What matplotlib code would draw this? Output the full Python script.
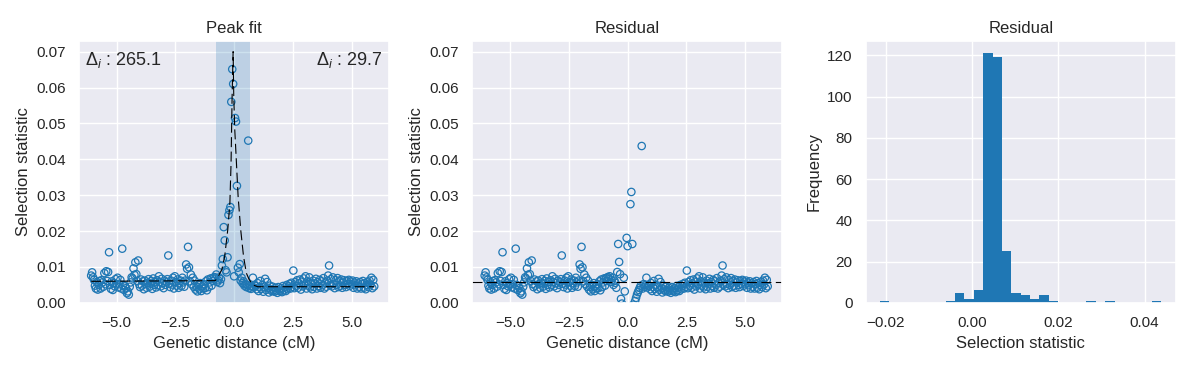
import numpy as np
import matplotlib
matplotlib.use('Agg')
import matplotlib.pyplot as plt
import seaborn as sns

# Selection statistic along the chromosome, left flank of the peak
left_x = [-6.08, -6.04, -6.00, -5.96, -5.92, -5.88, -5.84, -5.80, -5.76, -5.72,
          -5.68, -5.64, -5.60, -5.56, -5.52, -5.48, -5.44, -5.40, -5.36, -5.32,
          -5.28, -5.24, -5.20, -5.16, -5.12, -5.08, -5.04, -5.00, -4.96, -4.92,
          -4.88, -4.84, -4.80, -4.76, -4.72, -4.68, -4.64, -4.60, -4.56, -4.52,
          -4.48, -4.44, -4.40, -4.36, -4.32, -4.28, -4.24, -4.20, -4.16, -4.12,
          -4.08, -4.04, -4.00, -3.96, -3.92, -3.88, -3.84, -3.80, -3.76, -3.72,
          -3.68, -3.64, -3.60, -3.56, -3.52, -3.48, -3.44, -3.40, -3.36, -3.32,
          -3.28, -3.24, -3.20, -3.16, -3.12, -3.08, -3.04, -3.00, -2.96, -2.92,
          -2.88, -2.84, -2.80, -2.76, -2.72, -2.68, -2.64, -2.60, -2.56, -2.52,
          -2.48, -2.44, -2.40, -2.36, -2.32, -2.28, -2.24, -2.20, -2.16, -2.12,
          -2.08, -2.04, -2.00, -1.96, -1.92, -1.88, -1.84, -1.80, -1.76, -1.72,
          -1.68, -1.64, -1.60, -1.56, -1.52, -1.48, -1.44, -1.40, -1.36, -1.32,
          -1.28, -1.24, -1.20, -1.16, -1.12, -1.08, -1.04, -1.00, -0.96, -0.92,
          -0.88, -0.84]
left_y = [0.0076, 0.0085, 0.0071, 0.0064, 0.0048, 0.0040, 0.0058, 0.0037, 0.0050, 0.0061,
          0.0040, 0.0063, 0.0057, 0.0045, 0.0083, 0.0052, 0.0088, 0.0061, 0.0086, 0.0141,
          0.0050, 0.0039, 0.0060, 0.0036, 0.0055, 0.0046, 0.0066, 0.0052, 0.0070, 0.0043,
          0.0052, 0.0064, 0.0040, 0.0151, 0.0050, 0.0036, 0.0046, 0.0041, 0.0027, 0.0032,
          0.0023, 0.0045, 0.0057, 0.0071, 0.0068, 0.0096, 0.0078, 0.0113, 0.0080, 0.0061,
          0.0118, 0.0052, 0.0044, 0.0065, 0.0048, 0.0060, 0.0038, 0.0062, 0.0053, 0.0042,
          0.0056, 0.0066, 0.0045, 0.0054, 0.0061, 0.0039, 0.0068, 0.0050, 0.0058, 0.0043,
          0.0063, 0.0049, 0.0074, 0.0058, 0.0046, 0.0067, 0.0055, 0.0041, 0.0062, 0.0050,
          0.0057, 0.0066, 0.0132, 0.0053, 0.0044, 0.0062, 0.0051, 0.0070, 0.0040, 0.0074,
          0.0058, 0.0048, 0.0065, 0.0042, 0.0055, 0.0062, 0.0047, 0.0070, 0.0057, 0.0045,
          0.0062, 0.0107, 0.0095, 0.0156, 0.0099, 0.0060, 0.0079, 0.0052, 0.0070, 0.0045,
          0.0062, 0.0037, 0.0045, 0.0032, 0.0050, 0.0038, 0.0055, 0.0033, 0.0046, 0.0040,
          0.0052, 0.0041, 0.0060, 0.0035, 0.0065, 0.0044, 0.0057, 0.0068, 0.0048, 0.0069,
          0.0061, 0.0072]

# Peak region: raw values and residuals after removing the fit
peak_x = [-0.80, -0.76, -0.72, -0.68, -0.64, -0.60, -0.56, -0.52, -0.48, -0.44,
          -0.40, -0.36, -0.32, -0.28, -0.24, -0.20, -0.16, -0.12, -0.08, -0.04,
          0.00, 0.04, 0.08, 0.12, 0.16, 0.20, 0.24, 0.28, 0.32, 0.36,
          0.40, 0.44, 0.48, 0.52, 0.56, 0.60, 0.64, 0.68, 0.72, 0.76,
          0.80, 0.84, 0.88]
peak_y = [0.0068, 0.0079, 0.0058, 0.0063, 0.0071, 0.0055, 0.0066, 0.0104, 0.0122, 0.0211,
          0.0174, 0.0091, 0.0085, 0.0127, 0.0245, 0.0258, 0.0267, 0.0560, 0.0651, 0.0610,
          0.0074, 0.0515, 0.0505, 0.0326, 0.0098, 0.0085, 0.0108, 0.0062, 0.0070, 0.0055,
          0.0060, 0.0048, 0.0052, 0.0044, 0.0050, 0.0452, 0.0041, 0.0047, 0.0039, 0.0045,
          0.0070, 0.0043, 0.0049]
peak_resid = [0.0068, 0.0074, 0.0058, 0.0063, 0.0070, 0.0050, 0.0062, 0.0056, 0.0042, 0.0086,
              0.0164, 0.0114, 0.0080, 0.0011, -0.0002, -0.0025, 0.0070, 0.0032, -0.0015, 0.0181,
              0.0158, -0.0040, -0.0200, 0.0275, 0.0309, 0.0164, -0.0005, -0.0018, 0.0005, 0.0014,
              0.0023, 0.0030, 0.0036, 0.0042, 0.0048, 0.0437, 0.0040, 0.0052, 0.0045, 0.0050,
              0.0070, 0.0043, 0.0049]

# Right flank
right_x = [0.92, 0.96, 1.00, 1.04, 1.08, 1.12, 1.16, 1.20, 1.24, 1.28,
           1.32, 1.36, 1.40, 1.44, 1.48, 1.52, 1.56, 1.60, 1.64, 1.68,
           1.72, 1.76, 1.80, 1.84, 1.88, 1.92, 1.96, 2.00, 2.04, 2.08,
           2.12, 2.16, 2.20, 2.24, 2.28, 2.32, 2.36, 2.40, 2.44, 2.48,
           2.52, 2.56, 2.60, 2.64, 2.68, 2.72, 2.76, 2.80, 2.84, 2.88,
           2.92, 2.96, 3.00, 3.04, 3.08, 3.12, 3.16, 3.20, 3.24, 3.28,
           3.32, 3.36, 3.40, 3.44, 3.48, 3.52, 3.56, 3.60, 3.64, 3.68,
           3.72, 3.76, 3.80, 3.84, 3.88, 3.92, 3.96, 4.00, 4.04, 4.08,
           4.12, 4.16, 4.20, 4.24, 4.28, 4.32, 4.36, 4.40, 4.44, 4.48,
           4.52, 4.56, 4.60, 4.64, 4.68, 4.72, 4.76, 4.80, 4.84, 4.88,
           4.92, 4.96, 5.00, 5.04, 5.08, 5.12, 5.16, 5.20, 5.24, 5.28,
           5.32, 5.36, 5.40, 5.44, 5.48, 5.52, 5.56, 5.60, 5.64, 5.68,
           5.72, 5.76, 5.80, 5.84, 5.88, 5.92, 5.96]
right_y = [0.0047, 0.0038, 0.0055, 0.0033, 0.0044, 0.0061, 0.0039, 0.0050, 0.0031, 0.0045,
           0.0067, 0.0036, 0.0058, 0.0042, 0.0029, 0.0048, 0.0037, 0.0033, 0.0045, 0.0035,
           0.0031, 0.0042, 0.0034, 0.0028, 0.0044, 0.0037, 0.0032, 0.0041, 0.0030, 0.0047,
           0.0035, 0.0043, 0.0033, 0.0050, 0.0038, 0.0046, 0.0053, 0.0040, 0.0056, 0.0045,
           0.0090, 0.0041, 0.0058, 0.0047, 0.0063, 0.0042, 0.0054, 0.0065, 0.0037, 0.0059,
           0.0046, 0.0068, 0.0051, 0.0074, 0.0040, 0.0060, 0.0048, 0.0071, 0.0043, 0.0056,
           0.0038, 0.0062, 0.0045, 0.0054, 0.0067, 0.0040, 0.0058, 0.0047, 0.0064, 0.0042,
           0.0060, 0.0049, 0.0069, 0.0040, 0.0056, 0.0045, 0.0062, 0.0076, 0.0104, 0.0050,
           0.0066, 0.0046, 0.0071, 0.0053, 0.0041, 0.0063, 0.0050, 0.0069, 0.0044, 0.0060,
           0.0048, 0.0065, 0.0042, 0.0057, 0.0063, 0.0050, 0.0044, 0.0061, 0.0053, 0.0064,
           0.0047, 0.0059, 0.0052, 0.0062, 0.0042, 0.0056, 0.0049, 0.0060, 0.0040, 0.0054,
           0.0045, 0.0058, 0.0040, 0.0053, 0.0061, 0.0042, 0.0055, 0.0038, 0.0050, 0.0059,
           0.0044, 0.0062, 0.0051, 0.0070, 0.0041, 0.0064, 0.0046]

# Fitted peak curve
fit_x = [-6.08, -0.80, -0.71, -0.52, -0.40, -0.27, -0.18, -0.13, -0.085, -0.042,
         -0.014, 0.028, 0.10, 0.17, 0.28, 0.40, 0.52, 0.64, 0.80, 1.00, 5.96]
fit_y = [0.0060, 0.0062, 0.0070, 0.0093, 0.0130, 0.0204, 0.0278, 0.0389, 0.0575, 0.0700,
         0.0575, 0.0482, 0.0389, 0.0297, 0.0204, 0.0130, 0.0083, 0.0065, 0.0050, 0.0045, 0.0045]
peak_span = (-0.75, 0.66)
resid_mean = 0.0058
delta_left = 265.1
delta_right = 29.7

# Residual histogram
hist_lo, hist_hi = -0.02133, 0.0439
hist_counts = [1, 0, 0, 0, 0, 0, 0, 1, 5, 2, 6, 121, 119, 25, 5,
               4, 2, 4, 1, 0, 0, 0, 1, 0, 1, 0, 0, 0, 0, 1]

sns.set_theme(style='darkgrid')
plt.rcParams['font.family'] = ['Liberation Sans', 'DejaVu Sans']
plt.rcParams['mathtext.fontset'] = 'custom'
plt.rcParams['mathtext.rm'] = 'Liberation Sans'
plt.rcParams['mathtext.it'] = 'Liberation Sans:italic'

blue = '#1f77b4'
xs = left_x + peak_x + right_x
ys_fit = left_y + peak_y + right_y
ys_res = left_y + peak_resid + right_y

fig, axes = plt.subplots(1, 3, figsize=(11.91, 3.68), dpi=100)
plt.subplots_adjust(left=0.0663, right=0.987, bottom=0.177, top=0.889, wspace=0.271)

ax = axes[0]
ax.axvspan(peak_span[0], peak_span[1], color=blue, alpha=0.22, lw=0)
ax.scatter(xs, ys_fit, s=28, facecolors='none', edgecolors=blue, linewidths=0.9)
ax.plot(fit_x, fit_y, color='black', lw=0.8, dashes=(9, 4))
ax.text(0.02, 0.965, r'$\Delta_i$ : %.1f' % delta_left, transform=ax.transAxes,
        ha='left', va='top', fontsize=13)
ax.text(0.98, 0.965, r'$\Delta_i$ : %.1f' % delta_right, transform=ax.transAxes,
        ha='right', va='top', fontsize=13)
ax.set_title('Peak fit')
ax.set_xlabel('Genetic distance (cM)')
ax.set_ylabel('Selection statistic')
ax.set_xlim(-6.6, 6.57)
ax.set_ylim(0, 0.073)

ax = axes[1]
ax.scatter(xs, ys_res, s=28, facecolors='none', edgecolors=blue, linewidths=0.9)
ax.axhline(resid_mean, color='black', lw=0.8, dashes=(9, 4))
ax.set_title('Residual')
ax.set_xlabel('Genetic distance (cM)')
ax.set_ylabel('Selection statistic')
ax.set_xlim(-6.6, 6.57)
ax.set_ylim(0, 0.073)

ax = axes[2]
edges = np.linspace(hist_lo, hist_hi, len(hist_counts) + 1)
ax.hist(edges[:-1], bins=edges, weights=hist_counts, color=blue,
        edgecolor='none', linewidth=0)
ax.set_title('Residual')
ax.set_xlabel('Selection statistic')
ax.set_ylabel('Frequency')

plt.savefig('out.png')
